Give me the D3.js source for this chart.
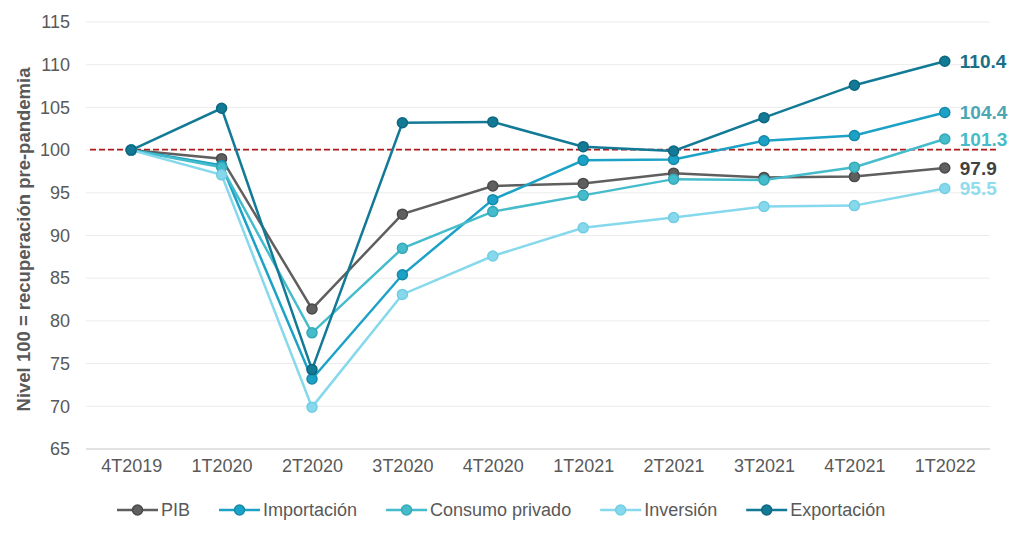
<!DOCTYPE html>
<html>
<head>
  <meta charset="utf-8">
  <title>Recuperación pre-pandemia</title>
  <style>
    body { margin: 0; background: #fff; }
    svg { font-family: "Liberation Sans", Arial, sans-serif; }
  </style>
</head>
<body>
  <div id="chart"></div>

  <script src="https://d3js.org/d3.v7.min.js"></script>
  <script>
    const quarters = ["4T2019", "1T2020", "2T2020", "3T2020", "4T2020", "1T2021", "2T2021", "3T2021", "4T2021", "1T2022"];
    const yTicks = [65, 70, 75, 80, 85, 90, 95, 100, 105, 110, 115];

    const pib = [100, 99.0, 81.4, 92.5, 95.8, 96.1, 97.3, 96.8, 96.9, 97.9];
    const importacion = [100, 98.2, 73.2, 85.4, 94.2, 98.8, 98.9, 101.1, 101.7, 104.4];
    const consumo = [100, 98.0, 78.6, 88.5, 92.8, 94.7, 96.6, 96.5, 98.0, 101.3];
    const inversion = [100, 97.1, 69.9, 83.1, 87.6, 90.9, 92.1, 93.4, 93.5, 95.5];
    const exportacion = [100, 104.9, 74.3, 103.2, 103.3, 100.4, 99.9, 103.8, 107.6, 110.4];

    const series = [
      { name: "PIB", values: pib, color: "#5f5f5f", stroke: "#4a4a4a", label: "#404040" },
      { name: "Importación", values: importacion, color: "#1ba2c6", stroke: "#148aab", label: "#4da6b3" },
      { name: "Consumo privado", values: consumo, color: "#45bccb", stroke: "#35a8b6", label: "#45bcc8" },
      { name: "Inversión", values: inversion, color: "#86d8ec", stroke: "#72cde3", label: "#8fdcee" },
      { name: "Exportación", values: exportacion, color: "#137a96", stroke: "#0e6680", label: "#1a6e86" }
    ];

    const width = 1024, height = 539;
    const plotLeft = 86, plotRight = 990, plotTop = 22, plotBottom = 449;

    const svg = d3.select("#chart").append("svg")
      .attr("width", width)
      .attr("height", height);

    const x = d3.scalePoint()
      .domain(quarters)
      .range([plotLeft, plotRight])
      .padding(0.5);

    const y = d3.scaleLinear()
      .domain([65, 115])
      .range([plotBottom, plotTop]);

    // grid lines
    svg.append("g")
      .selectAll("line")
      .data(yTicks)
      .join("line")
      .attr("x1", plotLeft)
      .attr("x2", plotRight)
      .attr("y1", d => y(d))
      .attr("y2", d => y(d))
      .attr("stroke", d => d === 65 ? "#d9d9d9" : "#ececec")
      .attr("stroke-width", d => d === 65 ? 1.5 : 1);

    // y axis labels
    const yAxis = d3.axisLeft(y).tickValues(yTicks).tickSize(0).tickPadding(16);
    svg.append("g")
      .attr("transform", `translate(${plotLeft},0)`)
      .call(yAxis)
      .call(g => g.select(".domain").remove())
      .selectAll("text")
      .attr("fill", "#595959")
      .style("font-size", "18px");

    // x axis labels
    const xAxis = d3.axisBottom(x).tickSize(0).tickPadding(10);
    svg.append("g")
      .attr("transform", `translate(0,${plotBottom})`)
      .call(xAxis)
      .call(g => g.select(".domain").remove())
      .selectAll("text")
      .attr("fill", "#595959")
      .style("font-size", "18px");

    svg.append("text")
      .attr("transform", `translate(30,${(plotTop + plotBottom) / 2 + 4}) rotate(-90)`)
      .attr("text-anchor", "middle")
      .attr("fill", "#595959")
      .style("font-size", "18.5px")
      .style("font-weight", "bold")
      .text("Nivel 100 = recuperación pre-pandemia");

    // reference line at 100
    svg.append("line")
      .attr("x1", plotLeft + 4)
      .attr("x2", plotRight + 8)
      .attr("y1", y(100) - 0.5)
      .attr("y2", y(100) - 0.5)
      .attr("stroke", "#b01c1c")
      .attr("stroke-width", 1.6)
      .attr("stroke-dasharray", "6,3");

    const line = d3.line()
      .x((d, i) => x(quarters[i]))
      .y(d => y(d));

    series.forEach(s => {
      const g = svg.append("g");
      g.append("path")
        .datum(s.values)
        .attr("d", line)
        .attr("fill", "none")
        .attr("stroke", s.color)
        .attr("stroke-width", 2.5);
      g.selectAll("circle")
        .data(s.values)
        .join("circle")
        .attr("cx", (d, i) => x(quarters[i]))
        .attr("cy", d => y(d))
        .attr("r", 5)
        .attr("fill", s.color)
        .attr("stroke", s.stroke)
        .attr("stroke-width", 1.5);

      const last = s.values[s.values.length - 1];
      svg.append("text")
        .attr("x", x(quarters[quarters.length - 1]) + 15)
        .attr("y", y(last))
        .attr("dy", "0.36em")
        .attr("fill", s.label)
        .style("font-size", "19px")
        .style("font-weight", "bold")
        .text(last.toFixed(1));
    });

    // legend
    const legend = svg.append("g").attr("transform", "translate(117,510)");
    let lx = 0;
    series.forEach(s => {
      const item = legend.append("g").attr("transform", `translate(${lx},0)`);
      item.append("line")
        .attr("x1", 0).attr("x2", 41)
        .attr("stroke", s.color)
        .attr("stroke-width", 2.5);
      item.append("circle")
        .attr("cx", 20.5).attr("r", 5)
        .attr("fill", s.color)
        .attr("stroke", s.stroke)
        .attr("stroke-width", 1.5);
      const t = item.append("text")
        .attr("x", 44)
        .attr("dy", "0.36em")
        .attr("fill", "#595959")
        .style("font-size", "18px")
        .text(s.name);
      lx += 44 + t.node().getComputedTextLength() + 29;
    });
  </script>
</body>
</html>
